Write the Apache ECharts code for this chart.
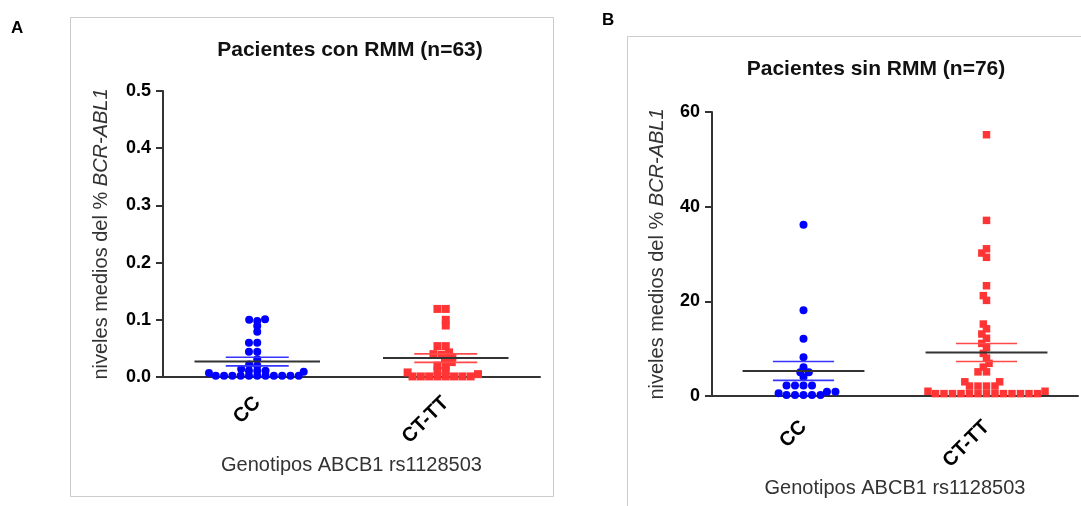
<!DOCTYPE html>
<html>
<head>
<meta charset="utf-8">
<script src="https://cdn.jsdelivr.net/npm/echarts@6/dist/echarts.min.js"></script>
<style>
  html, body { margin: 0; padding: 0; background: #fff; }
  #chart { width: 1081px; height: 506px; }
</style>
</head>
<body>
<div id="chart"></div>
<script>
const categories = ['CC', 'CT-TT'];

// A: pacientes con RMM (n=63)
const conCC = [0.101, 0.098, 0.100, 0.089, 0.079, 0.060, 0.060, 0.044, 0.044, 0.031,
  0.022, 0.020, 0.014, 0.009, 0.011, 0.007, 0.011, 0.011,
  0.002, 0.002, 0.002, 0.002, 0.002, 0.002, 0.002, 0.002, 0.002, 0.002, 0.002];
const conCTTT = [0.119, 0.119, 0.100, 0.090, 0.054, 0.054, 0.043, 0.039, 0.040, 0.035,
  0.031, 0.026, 0.020, 0.020, 0.011, 0.005, 0.008, 0.011,
  0.001, 0.001, 0.001, 0.001, 0.001, 0.001, 0.001, 0.001];
const conMean = [0.027, 0.033];
const conSem = [0.0075, 0.0075];

// B: pacientes sin RMM (n=76)
const sinCC = [36.2, 18.1, 12.1, 8.2, 6.1, 5.0, 5.0, 4.0, 2.2, 2.2, 2.2, 2.2,
  0.9, 0.9, 0.6, 0.2, 0.2, 0.2, 0.2, 0.2];
const sinCTTT = [55.2, 37.1, 31.1, 30.2, 29.3, 23.3, 21.2, 20.2, 15.2, 14.2, 13.1, 12.2,
  11.1, 10.2, 9.0, 8.0, 6.9, 6.1, 5.1, 5.1, 3.0, 3.0, 2.1, 2.1, 2.1, 2.1, 1.0, 1.0,
  0.5, 0.5, 0.5, 0.5, 0.5, 0.5, 0.5, 0.5, 0.5, 0.5, 0.5, 0.5, 0.5];
const sinMean = [5.3, 9.2];
const sinSem = [2.0, 1.9];

const yAxisA = { min: 0, max: 0.5, step: 0.1 };
const yAxisB = { min: 0, max: 60, step: 20 };

const FONT = '"Liberation Sans", Arial, sans-serif';
const BLUE = '#0000ff';
const RED = '#ff3535';
const AXIS = '#333';

const gridA = { left: 163, top: 91, width: 377, height: 286 };
const gridB = { left: 712, top: 112, width: 366, height: 284 };

// simple beeswarm: ascending values, nearest free offset from the centre
function swarm(values, center, pxX, pxY, d) {
  const order = values.map((v, i) => i).sort((a, b) => values[a] - values[b]);
  const placed = [];
  const out = new Array(values.length);
  const ry = 0.6 * d;
  for (const i of order) {
    const y = values[i] * pxY;
    const blocks = [];
    placed.forEach((p) => {
      const dy = Math.abs(p.y - y);
      if (dy < ry) {
        const w = d * Math.sqrt(1 - (dy / ry) ** 2);
        blocks.push([p.x - w, p.x + w]);
      }
    });
    const cands = [0];
    blocks.forEach((b) => cands.push(b[0], b[1]));
    cands.sort((a, b) => Math.abs(a) - Math.abs(b));
    let x = 0;
    for (const c of cands) {
      if (blocks.every((b) => c <= b[0] + 1e-6 || c >= b[1] - 1e-6)) { x = c; break; }
    }
    placed.push({ x, y });
    out[i] = [center + x / pxX, values[i]];
  }
  return out;
}

function seg(i, v, half) {
  return [[i - half, v], [i + half, v]];
}

function lineSeries(xi, yi, data, color, width) {
  return {
    type: 'line', xAxisIndex: xi, yAxisIndex: yi, data,
    symbol: 'none', silent: true, animation: false, z: 5,
    lineStyle: { color, width },
  };
}

function panelAxes(grid, yCfg, fmt, nameGapY, catMargin, nameGapX) {
  const catAxis = {
    type: 'category', gridIndex: grid, data: categories,
    axisLine: { onZero: false, lineStyle: { color: AXIS, width: 2 } },
    axisTick: { alignWithLabel: true, length: 7, lineStyle: { color: AXIS, width: 2 } },
    axisLabel: { rotate: 45, margin: catMargin, color: '#000', fontWeight: 'bold', fontSize: 20, fontFamily: FONT },
    name: 'Genotipos ABCB1 rs1128503', nameLocation: 'middle', nameGap: nameGapX,
    nameTextStyle: { color: '#333', fontSize: 20, fontFamily: FONT },
  };
  const valAxis = { type: 'value', gridIndex: grid, min: -0.5, max: 1.5, show: false };
  const yAxis = {
    type: 'value', gridIndex: grid, min: yCfg.min, max: yCfg.max, interval: yCfg.step,
    axisLine: { show: true, onZero: false, lineStyle: { color: AXIS, width: 2 } },
    axisTick: { show: true, length: 7, lineStyle: { color: AXIS, width: 2 } },
    splitLine: { show: false },
    axisLabel: { color: '#000', fontWeight: 'bold', fontSize: 18, fontFamily: FONT, margin: 12, formatter: fmt },
    name: '{a|niveles medios del % }{b|BCR-ABL1}', nameLocation: 'middle', nameGap: nameGapY,
    nameTextStyle: {
      color: '#333', fontSize: 20, fontFamily: FONT,
      rich: {
        a: { color: '#333', fontSize: 20, fontFamily: FONT },
        b: { color: '#333', fontSize: 20, fontFamily: FONT, fontStyle: 'italic' },
      },
    },
  };
  return { catAxis, valAxis, yAxis };
}

const chart = echarts.init(document.getElementById('chart'), null, { renderer: 'canvas' });

const axA = panelAxes(0, yAxisA, (v) => v.toFixed(1), 52, 23, 78);
const axB = panelAxes(1, yAxisB, (v) => String(v), 45, 28, 81);

const pxXA = gridA.width / 2, pxYA = gridA.height / (yAxisA.max - yAxisA.min);
const pxXB = gridB.width / 2, pxYB = gridB.height / (yAxisB.max - yAxisB.min);

const series = [
  { type: 'scatter', xAxisIndex: 1, yAxisIndex: 0, symbol: 'circle', symbolSize: 8,
    itemStyle: { color: BLUE, opacity: 1 }, data: swarm(conCC, 0, pxXA, pxYA, 8.3), animation: false },
  { type: 'scatter', xAxisIndex: 1, yAxisIndex: 0, symbol: 'rect', symbolSize: 8,
    itemStyle: { color: RED, opacity: 1 }, data: swarm(conCTTT, 1, pxXA, pxYA, 8.3), animation: false },
  { type: 'scatter', xAxisIndex: 3, yAxisIndex: 1, symbol: 'circle', symbolSize: 8,
    itemStyle: { color: BLUE, opacity: 1 }, data: swarm(sinCC, 0, pxXB, pxYB, 8.5), animation: false },
  { type: 'scatter', xAxisIndex: 3, yAxisIndex: 1, symbol: 'rect', symbolSize: 7.5,
    itemStyle: { color: RED, opacity: 1 }, data: swarm(sinCTTT, 1, pxXB, pxYB, 8.5), animation: false },
];

[[conMean, conSem, 1, 0], [sinMean, sinSem, 3, 1]].forEach(([mean, sem, xi, yi]) => {
  mean.forEach((m, i) => {
    const c = i === 0 ? '#3535ff' : '#ff4a4a';
    series.push(lineSeries(xi, yi, seg(i, m + sem[i], 0.167), c, 1.6));
    series.push(lineSeries(xi, yi, seg(i, m - sem[i], 0.167), c, 1.6));
    series.push(lineSeries(xi, yi, seg(i, m, 0.333), AXIS, 2));
  });
});

const option = {
  backgroundColor: '#fff',
  animation: false,
  title: [
    { text: 'A', left: 11, top: 20, padding: 0, textStyle: { fontSize: 17, fontWeight: 'bold', color: '#000', fontFamily: FONT } },
    { text: 'B', left: 602, top: 12, padding: 0, textStyle: { fontSize: 17, fontWeight: 'bold', color: '#000', fontFamily: FONT } },
    { text: 'Pacientes con RMM (n=63)', left: 350, top: 40, padding: 0, textAlign: 'center',
      textStyle: { fontSize: 21, fontWeight: 'bold', color: '#111', fontFamily: FONT } },
    { text: 'Pacientes sin RMM (n=76)', left: 876, top: 59, padding: 0, textAlign: 'center',
      textStyle: { fontSize: 21, fontWeight: 'bold', color: '#111', fontFamily: FONT } },
  ],
  graphic: [
    { type: 'rect', shape: { x: 70.5, y: 17.5, width: 483, height: 479 }, silent: true,
      style: { fill: 'none', stroke: '#cccccc', lineWidth: 1 }, z: -1 },
    { type: 'rect', shape: { x: 627.5, y: 36.5, width: 470, height: 490 }, silent: true,
      style: { fill: 'none', stroke: '#cccccc', lineWidth: 1 }, z: -1 },
  ],
  grid: [
    Object.assign({ containLabel: false }, gridA),
    Object.assign({ containLabel: false }, gridB),
  ],
  xAxis: [axA.catAxis, axA.valAxis, axB.catAxis, axB.valAxis],
  yAxis: [axA.yAxis, axB.yAxis],
  series,
};

chart.setOption(option);
</script>
</body>
</html>
